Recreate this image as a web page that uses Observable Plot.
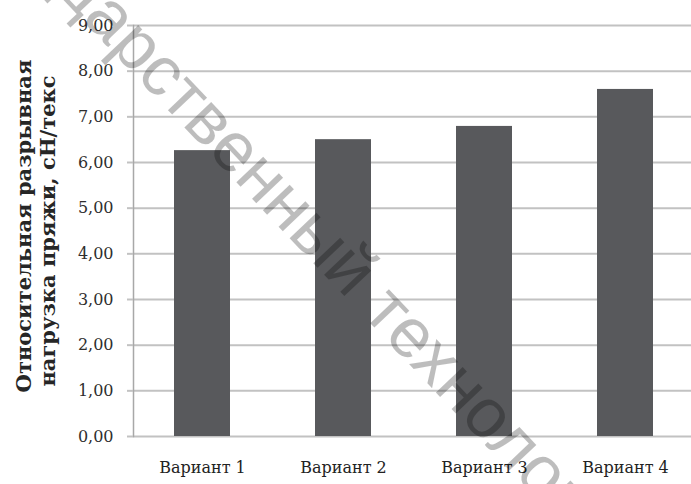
<!DOCTYPE html>
<html>
<head>
<meta charset="utf-8">
<script src="https://cdn.jsdelivr.net/npm/d3@7"></script>
<script src="https://cdn.jsdelivr.net/npm/@observablehq/plot@0.6"></script>
<style>
  html, body { margin: 0; padding: 0; background: #fff; overflow: hidden; }
</style>
</head>
<body>
<div id="chart"></div>
<script>
// Relative breaking load of the yarn for four variants
const categories = ["Вариант 1", "Вариант 2", "Вариант 3", "Вариант 4"];
const values = [6.26, 6.50, 6.79, 7.60];
const yTicks = [0, 1, 2, 3, 4, 5, 6, 7, 8, 9];
const yTitle = ["Относительная разрывная", "нагрузка пряжи, сН/текс"];
const watermark = ["государственный", "технологический"];

const data = categories.map((variant, i) => ({variant, value: values[i]}));
const fmt = d => d.toFixed(2).replace(".", ",");

const serif = "'DejaVu Serif', 'Liberation Serif', serif";
const sans = "'Liberation Sans', Arial, sans-serif";

// watermark: centre of the gap between its two words, angle and half-gap
const wmX = 390, wmY = 272, wmAngle = 46.5, wmSize = 70;
const half = 0.139 * wmSize;
const ux = Math.cos(wmAngle * Math.PI / 180), uy = Math.sin(wmAngle * Math.PI / 180);

const chart = Plot.plot({
  width: 691,
  height: 484,
  marginLeft: 133,
  marginRight: 0,
  marginTop: 25,
  marginBottom: 48,
  style: {background: "#fff"},
  x: {domain: categories, range: [132, 696], paddingInner: 0.6, paddingOuter: 0.3, label: null},
  y: {domain: [0, 9], label: null},
  marks: [
    Plot.gridY(yTicks, {stroke: "#c2c2c2", strokeOpacity: 1, strokeWidth: 2}),
    Plot.frame({anchor: "left", stroke: "#a8a8a8", strokeWidth: 1.5}),
    Plot.barY(data, {x: "variant", y: "value", fill: "#58595c"}),
    Plot.axisY(yTicks, {
      tickSize: 6, tickPadding: 14, tickFormat: fmt,
      stroke: "#c2c2c2", strokeWidth: 2, fill: "#2e2e2e",
      fontSize: 16, fontFamily: serif, label: null
    }),
    Plot.axisX({
      tickSize: 0, tickPadding: 25, fill: "#222",
      fontSize: 16, fontFamily: serif, label: null
    }),
    Plot.text([yTitle[0]], {
      frameAnchor: "left", textAnchor: "middle", rotate: -90, dx: -109, dy: -5,
      fontSize: 21, fontWeight: "bold", fontFamily: serif, fill: "#262626"
    }),
    Plot.text([yTitle[1]], {
      frameAnchor: "left", textAnchor: "middle", rotate: -90, dx: -85, dy: 0,
      fontSize: 21, fontWeight: "bold", fontFamily: serif, fill: "#262626"
    }),
    // diagonal watermark across the plot
    Plot.text([watermark[0]], {
      frameAnchor: "top-left", rotate: wmAngle,
      dx: wmX - 133 - half * ux, dy: wmY - 25 - half * uy,
      textAnchor: "end", fontSize: wmSize, fontFamily: sans,
      fill: "#000", fillOpacity: 0.26
    }),
    Plot.text([watermark[1]], {
      frameAnchor: "top-left", rotate: wmAngle,
      dx: wmX - 133 + half * ux, dy: wmY - 25 + half * uy,
      textAnchor: "start", fontSize: wmSize, fontFamily: sans,
      fill: "#000", fillOpacity: 0.26
    })
  ]
});

document.getElementById("chart").append(chart);
</script>
</body>
</html>
